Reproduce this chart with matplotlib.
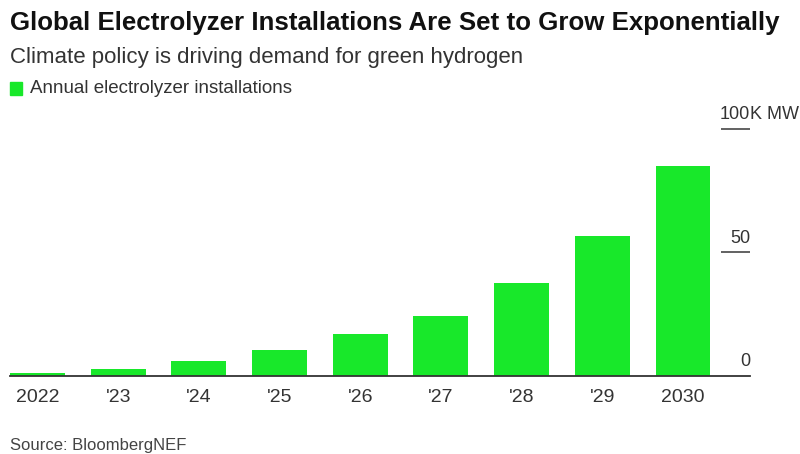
import matplotlib.pyplot as plt

plt.rcParams['font.family'] = ['Liberation Sans', 'DejaVu Sans']

# data (thousand MW per year)
years = ['2022', "'23", "'24", "'25", "'26", "'27", "'28", "'29", '2030']
installs = [1.2, 3.0, 6.0, 10.5, 17.0, 24.4, 37.5, 56.7, 85.0]
y_ticks = [0, 50, 100]
y_tick_labels = ['0', '50', '100']

green = '#18e82a'

fig = plt.figure(figsize=(8, 4.54), dpi=100)
ax = fig.add_axes([0.0125, 0.1718, 0.925, 0.5441])

x = list(range(len(years)))
ax.bar(x, installs, width=0.68, color=green, zorder=2)
ax.set_xlim(-0.34, 8.83)
ax.set_ylim(0, 100)

ax.set_xticks(x)
ax.set_xticklabels(years, fontsize=14, color='#333333')
ax.tick_params(axis='x', length=0, pad=9)
ax.set_yticks([])
for s in ['top', 'right', 'left']:
    ax.spines[s].set_visible(False)
ax.spines['bottom'].set_color('#333333')
ax.spines['bottom'].set_linewidth(1.3)
ax.spines['bottom'].set_zorder(3)

# right side tick marks and labels, Bloomberg style
trans = ax.get_yaxis_transform()
ax.hlines([t for t in y_ticks if t > 0], 0.961, 1.0, transform=trans,
          color='#555555', lw=1.3, clip_on=False)
for t, lab in zip(y_ticks, y_tick_labels):
    ax.annotate(lab, (1.0, t), xycoords=trans, xytext=(0, 7),
                textcoords='offset points', ha='right', va='baseline',
                fontsize=13, color='#333333', annotation_clip=False)
ax.annotate('K MW', (1.0, y_ticks[-1]), xycoords=trans, xytext=(0, 7),
            textcoords='offset points', ha='left', va='baseline',
            fontsize=13, color='#333333', annotation_clip=False)

fig.text(0.0125, 0.950, 'Global Electrolyzer Installations Are Set to Grow Exponentially',
         fontsize=18.6, fontweight='bold', color='#111111', va='center')
fig.text(0.0125, 0.873, 'Climate policy is driving demand for green hydrogen',
         fontsize=16, color='#333333', va='center')
fig.patches.append(plt.Rectangle((0.0125, 0.791), 0.015, 0.028, color=green,
                                 transform=fig.transFigure, figure=fig))
fig.text(0.038, 0.806, 'Annual electrolyzer installations',
         fontsize=13.5, color='#333333', va='center')
fig.text(0.0125, 0.018, 'Source: BloombergNEF', fontsize=12, color='#444444', va='center')

fig.savefig('out.png', dpi=100, facecolor='white')
